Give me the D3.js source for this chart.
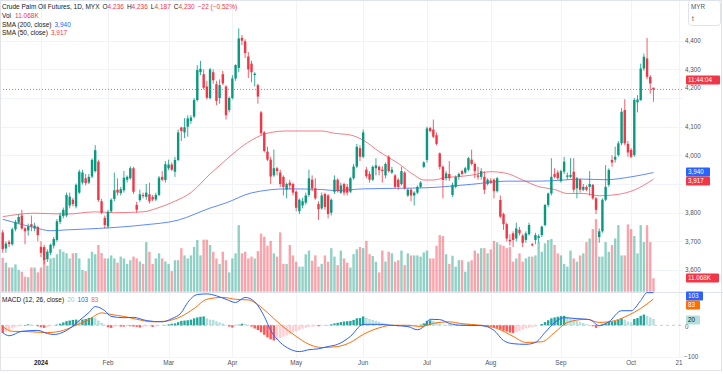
<!DOCTYPE html>
<html>
<head>
<meta charset="utf-8">
<script src="https://cdn.jsdelivr.net/npm/d3@7"></script>
<style>
  body { margin: 0; background: #fff; }
  svg { display: block; font-family: "Liberation Sans", Arial, sans-serif; }
</style>
</head>
<body>
<svg id="chart" width="723" height="374"></svg>
<script>
/* daily bars, Dec 13 2023 .. Oct 10 2024, index 0..204 */
var opens = [3731,3675,3698,3690,3742,3765,3790,3745,3738,3760,3745,3750,3681,3680,3638,3660,3685,3705,3768,3788,
  3790,3825,3845,3822,3870,3905,3920,3905,3926,3945,3978,3840,3782,3752,3805,3848,3880,3868,3878,3915,
  3920,3955,3827,3844,3862,3855,3864,3855,3846,3862,3925,3914,3955,3968,3943,3984,4097,4080,4100,4120,
  4135,4193,4290,4283,4240,4200,4290,4248,4200,4283,4240,4158,4200,4268,4305,4410,4398,4345,4320,4280,
  4245,4150,4080,4013,3985,3930,3955,3940,3925,3880,3905,3900,3873,3805,3825,3835,3862,3915,3885,3830,
  3815,3865,3860,3800,3873,3915,3870,3900,3890,3873,3920,3961,4025,3995,3950,3935,3915,3955,3960,3950,
  3930,3995,3940,3930,3915,3900,3940,3860,3880,3860,3870,3890,3960,3984,4095,4090,4070,4007,3960,3920,
  3935,3862,3890,3925,3945,3940,3950,3985,3970,3930,3925,3925,3900,3912,3915,3875,3844,3795,3760,3705,
  3728,3710,3740,3720,3705,3725,3690,3705,3712,3722,3757,3827,3867,3935,3940,3910,3943,3925,3925,3943,
  3885,3915,3880,3890,3890,3897,3850,3715,3735,3845,3897,3984,3985,4001,4042,4158,4040,4019,4001,4185,
  4193,4303,4338,4274,4236];
var highs = [3740,3700,3705,3748,3775,3795,3810,3750,3762,3790,3765,3755,3700,3688,3672,3692,3715,3778,3800,3818,
  3870,3870,3852,3902,3950,3950,3935,3935,3990,4036,3985,3848,3790,3810,3850,3940,3920,3890,3945,3930,
  3962,3960,3838,3880,3870,3900,3905,3862,3870,3928,3945,3980,3985,3975,3995,4090,4100,4130,4140,4140,
  4200,4315,4330,4300,4260,4305,4300,4260,4265,4295,4245,4205,4280,4318,4443,4420,4405,4360,4330,4290,
  4250,4155,4085,4030,3995,4020,3960,3950,3930,3905,3915,3905,3878,3850,3852,3870,3950,3930,3920,3840,
  3870,3870,3865,3850,3930,3920,3905,3905,3900,3925,3970,4040,4035,4090,3960,3945,3965,3990,3965,3962,
  3975,4000,3960,3935,3920,3960,3945,3885,3885,3875,3895,3910,3980,4100,4100,4125,4080,4010,3965,3945,
  3980,3905,3930,3940,3950,3960,3995,4020,3975,3960,3955,3945,3920,3920,3920,3925,3860,3800,3765,3725,
  3735,3765,3750,3725,3735,3765,3695,3730,3725,3755,3830,3870,3990,3955,3948,3950,3995,3940,3990,3990,
  3925,3920,3900,3895,3945,3900,3855,3745,3850,3966,3955,4000,4030,4050,4165,4196,4050,4025,4200,4210,
  4320,4355,4410,4280,4236];
var lows = [3660,3660,3680,3685,3735,3760,3740,3690,3720,3735,3735,3700,3645,3620,3628,3652,3675,3698,3760,3780,
  3785,3815,3822,3815,3865,3898,3895,3900,3920,3940,3838,3795,3745,3745,3800,3840,3860,3860,3870,3905,
  3915,3865,3800,3838,3850,3845,3832,3840,3840,3858,3910,3905,3948,3945,3925,3980,4050,4060,4065,4110,
  4130,4188,4280,4230,4195,4195,4250,4175,4180,4245,4125,4150,4195,4260,4290,4385,4340,4270,4255,4240,
  4180,4070,4010,3980,3900,3925,3930,3890,3860,3850,3880,3860,3805,3795,3815,3828,3855,3875,3845,3775,
  3810,3810,3780,3790,3865,3870,3865,3860,3860,3868,3915,3955,3980,3990,3920,3905,3910,3930,3930,3905,
  3920,3940,3935,3885,3880,3895,3880,3855,3840,3825,3865,3885,3955,3975,4080,4060,4035,3950,3850,3912,
  3910,3855,3885,3915,3930,3935,3945,3965,3920,3915,3915,3865,3895,3900,3850,3870,3780,3740,3700,3685,
  3680,3700,3720,3680,3695,3720,3682,3690,3695,3715,3752,3820,3860,3920,3915,3905,3935,3915,3920,3870,
  3850,3870,3875,3875,3860,3845,3795,3695,3730,3840,3890,3960,3975,3995,4035,4035,3995,3990,3995,4150,
  4190,4295,4265,4215,4187];
var closes = [3673,3692,3690,3742,3768,3785,3745,3735,3752,3752,3755,3722,3660,3635,3664,3688,3708,3770,3790,3810,
  3862,3856,3830,3897,3943,3940,3903,3925,3984,4018,3844,3800,3757,3803,3845,3878,3870,3882,3922,3925,
  3955,3873,3810,3864,3858,3870,3840,3846,3862,3922,3915,3969,3968,3950,3984,4080,4085,4098,4129,4132,
  4193,4298,4302,4236,4201,4300,4262,4190,4245,4251,4140,4200,4268,4315,4408,4400,4357,4300,4290,4285,
  4205,4077,4015,3985,3926,3955,3945,3900,3890,3900,3895,3870,3817,3845,3840,3860,3920,3885,3850,3812,
  3860,3820,3795,3845,3915,3875,3895,3870,3870,3920,3961,4030,3995,4080,3927,3915,3960,3965,3948,3945,
  3970,3945,3950,3890,3890,3945,3885,3880,3860,3870,3890,3905,3975,4094,4085,4065,4040,3960,3914,3937,
  3920,3897,3925,3935,3935,3955,3990,3970,3945,3925,3945,3880,3915,3905,3875,3920,3786,3760,3710,3700,
  3705,3745,3728,3695,3728,3757,3686,3722,3718,3751,3827,3867,3925,3925,3920,3945,3978,3930,3932,3880,
  3920,3880,3890,3880,3900,3850,3810,3735,3845,3890,3949,3975,3995,4042,4152,4042,4010,3995,4193,4195,
  4303,4344,4274,4251,4230];
// volume in thousands of lots
var volumes = [28,24,20,20,22.6,18,16.5,12.4,12,20,20,16,20,27.5,21.5,27.5,28,31,35,33,
  31.7,27.5,31.7,32,27.5,18,17,27.5,33,31,38.6,32,27.5,27.5,30,27.5,24,29,27.5,23,
  26,29,27.5,25,23,41,33,23,27.5,31.7,27.5,25,23,17,26,26,36,30,27.5,30,
  37,42.7,30,43,43,38.6,33,27.5,23,33,26,16,27.5,31.7,55,31.7,33,27.5,29,27.5,
  33.6,48,45.5,38,42,31.7,29,49,23,23,38.6,30,24.8,20.7,20.7,31,34,25.6,30,20.7,
  23,30,24.8,36,29,22,34,27.5,24,20,31,35,37,36,42,31,29.5,24.8,16,34,
  25,33,31.7,24.8,26,34,22,31.7,30,30,30,29,32.5,34,27.5,27.5,38,46.8,46,31,
  23,29.7,20.7,26,26,16.5,24.8,26,34,31.7,36,36,31.7,35,42,40.8,39,38,36,37,
  24.8,27.5,31.7,24.8,27.5,29,29,30,41,33,40,42.7,43.5,38.6,31.7,30,23,20.7,34,27.5,
  24.8,30,31.7,41,44,51.8,60,29,29,41,33,38.6,44,55,30,30,55.6,51.8,46,31.7,
  55,41,55,41,11.068];

// moving averages read at selected bars
var sma200Idx = [0,10,15,20,30,44,55,65,70,78,89,100,104,113,124,133,147,158,168,182,189,197,204];
var sma200 = [3777,3748,3737,3740,3745,3757,3774,3816,3834,3869,3883,3881,3877,3883,3885,3887,3899,3910,3910,3917,3915,3925,3940];
var sma50Idx = [0,10,20,29,35,44,49,54,59,65,70,73,78,84,89,100,104,109,113,118,124,129,132,135,139,142,147,153,158,163,168,173,177,182,187,193,198,204];
var sma50 = [3786,3798,3795,3803,3800,3803,3818,3840,3870,3935,3984,4013,4053,4080,4085,4085,4077,4071,4053,4013,3972,3931,3914,3914,3923,3925,3931,3943,3937,3914,3891,3881,3867,3867,3859,3864,3879,3917];

// MACD (12, 26, close)
var macdIdx = [0,2,6,11,14,16,21,24,27,29,32,34,38,41,45,50,53,56,58,61,64,67,70,73,76,79,82,84,87,90,93,96,99,102,105,109,113,118,122,127,130,132,134,137,140,144,150,154,157,160,164,167,170,173,176,180,184,187,190,194,197,200,202,204];
var macdLine = [-23,-33,-19,-16,-26,-29,-10,15,40,59,46,28,24,25,15,11,21,40,72,97,99,93,82,72,88,74,28,-16,-54,-75,-83,-77,-74,-67,-60,-35,3,3,0,-4,-14,-4,19,18,6,0,-1,-16,-48,-58,-60,-54,-23,9,24,21,18,-1,11,46,46,78,103,103];
var signalIdx = [0,3,8,14,18,22,27,31,34,38,42,47,51,56,60,64,69,73,77,80,83,87,92,96,100,105,109,113,118,122,127,131,135,140,144,150,155,160,164,169,173,177,183,187,192,196,200,204];
var signalLine = [-4,-19,-20,-23,-19,-4,18,39,34,28,19,11,13,28,53,82,88,82,80,65,40,3,-35,-60,-70,-67,-54,-29,-8,0,0,-4,6,11,5,0,-10,-35,-54,-52,-23,9,19,9,15,31,53,83];
var histogram = [-24,-20,-15,-10,-6,-3,-2,1,3,2, 1,-3,-6,-8,-6,-3,-1,2,5,9,
  13,15,17,18,16,18,20,23,25,24, 15,8,2,-6,-8,-5,-3,-4,-4,-3,
  -3,-4,-5,-7,-5,-4,-3,-5,-4,-2, -1,1,3,5,6,10,14,15,16,18,
  22,25,27,28,22,18,17,13,9,6, 2,-4,-7,-3,2,5,4,1,-4,-10,
  -15,-22,-30,-38,-44,-48,-46,-40,-36,-32, -27,-22,-19,-15,-11,-8,-5,-4,-3,-3,
  -2,-1,1,3,6,8,10,12,13,14, 17,22,23,28,24,20,17,14,11,8,
  6,4,2,-2,-3,-2,-3,-4,-3,-2, -1,2,6,14,16,14,10,5,2,1,
  2,1,1,1,2,2,3,2,0,-2, -2,-3,-3,-4,-6,-8,-13,-17,-20,-23,
  -24,-21,-18,-14,-10,-8,-6,-4,-1,4, 10,16,22,25,27,29,30,27,23,19,
  14,10,7,4,1,-3,-8,-4,3,6, 10,12,13,17,22,18,12,10,20,23,
  30,34,30,25,20];

var timeTickIdx = [12,33,52,72,92,113,133,153,175,197,212];
var timeTickLabels = ["2024","Feb","Mar","Apr","May","Jun","Jul","Aug","Sep","Oct","21"];
var priceTicks = [3600,3700,3800,3900,4000,4100,4200,4300,4400];

var svg = d3.select("#chart");
var UP = "#089981", DOWN = "#f23645";
var plotRight = 683;

var x = d3.scaleLinear().domain([0, 212]).range([2.7, 2.7 + 212 * 3.19]);
var y = d3.scaleLinear().domain([3600, 4400]).range([270, 40.7]);
var yVol = d3.scaleLinear().domain([0, 60]).range([291.7, 219.1]);
var yMacd = d3.scaleLinear().domain([-100, 0]).range([357, 325.3]);

svg.append("rect").attr("width", 723).attr("height", 374).attr("fill", "#fff");

// grid
var grid = svg.append("g").attr("stroke", "#f0f3fa").attr("stroke-width", 1);
grid.selectAll(".hg").data(priceTicks).enter().append("line")
    .attr("x1", 0).attr("x2", plotRight)
    .attr("y1", function(d) { return Math.round(y(d)) + 0.5; })
    .attr("y2", function(d) { return Math.round(y(d)) + 0.5; });
grid.selectAll(".vg").data(timeTickIdx).enter().append("line")
    .attr("x1", function(d) { return Math.round(x(d)) + 0.5; })
    .attr("x2", function(d) { return Math.round(x(d)) + 0.5; })
    .attr("y1", 0).attr("y2", 357);
grid.append("line").attr("x1", 0).attr("x2", plotRight)
    .attr("y1", Math.round(yMacd(-100)) + 0.5).attr("y2", Math.round(yMacd(-100)) + 0.5);

// pane separator
svg.append("line").attr("x1", 0).attr("x2", 723).attr("y1", 292.5).attr("y2", 292.5)
    .attr("stroke", "#e0e3eb");

var bars = d3.range(closes.length);
function isUp(i) { return closes[i] >= opens[i]; }

// volume
svg.append("g").selectAll("rect").data(bars).enter().append("rect")
    .attr("x", function(i) { return x(i) - 1.2; })
    .attr("width", 2.4)
    .attr("y", function(i) { return yVol(volumes[i]); })
    .attr("height", function(i) { return yVol(0) - yVol(volumes[i]); })
    .attr("fill", function(i) { return isUp(i) ? UP : DOWN; })
    .attr("fill-opacity", 0.45);

// moving averages
var maLine = d3.line().curve(d3.curveMonotoneX);
svg.append("path")
    .attr("d", maLine(sma200Idx.map(function(d, k) { return [x(d), y(sma200[k])]; })))
    .attr("fill", "none").attr("stroke", "#2962ff").attr("stroke-opacity", 0.75).attr("stroke-width", 1);
svg.append("path")
    .attr("d", maLine(sma50Idx.map(function(d, k) { return [x(d), y(sma50[k])]; })))
    .attr("fill", "none").attr("stroke", "#f23645").attr("stroke-opacity", 0.65).attr("stroke-width", 1);

// candles
var candles = svg.append("g");
candles.selectAll("line").data(bars).enter().append("line")
    .attr("x1", function(i) { return x(i); }).attr("x2", function(i) { return x(i); })
    .attr("y1", function(i) { return y(highs[i]); }).attr("y2", function(i) { return y(lows[i]); })
    .attr("stroke", function(i) { return isUp(i) ? UP : DOWN; })
    .attr("stroke-width", 0.8);
candles.selectAll("rect").data(bars).enter().append("rect")
    .attr("x", function(i) { return x(i) - 1.2; })
    .attr("width", 2.4)
    .attr("y", function(i) { return y(Math.max(opens[i], closes[i])); })
    .attr("height", function(i) { return Math.max(1, Math.abs(y(opens[i]) - y(closes[i]))); })
    .attr("fill", function(i) { return isUp(i) ? UP : DOWN; });

// last price line
var last = closes.length - 1;
svg.append("line").attr("x1", 0).attr("x2", plotRight)
    .attr("y1", y(closes[last])).attr("y2", y(closes[last]))
    .attr("stroke", DOWN).attr("stroke-width", 0.8).attr("stroke-dasharray", "1,2");

// MACD pane
svg.append("line").attr("x1", 0).attr("x2", plotRight)
    .attr("y1", yMacd(0)).attr("y2", yMacd(0))
    .attr("stroke", "#b2b5be").attr("stroke-width", 0.7).attr("stroke-dasharray", "3,3");
svg.append("g").selectAll("rect").data(bars).enter().append("rect")
    .attr("x", function(i) { return x(i) - 1.2; })
    .attr("width", 2.4)
    .attr("y", function(i) { return Math.min(yMacd(histogram[i]), yMacd(0)); })
    .attr("height", function(i) { return Math.abs(yMacd(histogram[i]) - yMacd(0)); })
    .attr("fill", function(i) {
        var v = histogram[i], p = i > 0 ? histogram[i - 1] : v;
        if (v >= 0) return v >= p ? "#26a69a" : "#b2dfdb";
        return v <= p ? "#ff5252" : "#ffcdd2";
    });
var mLine = d3.line().curve(d3.curveMonotoneX);
svg.append("path")
    .attr("d", mLine(signalIdx.map(function(d, k) { return [x(d), yMacd(signalLine[k])]; })))
    .attr("fill", "none").attr("stroke", "#ff6d00").attr("stroke-width", 1);
svg.append("path")
    .attr("d", mLine(macdIdx.map(function(d, k) { return [x(d), yMacd(macdLine[k])]; })))
    .attr("fill", "none").attr("stroke", "#2962ff").attr("stroke-width", 1);

// price axis labels
svg.append("g").selectAll("text").data(priceTicks.filter(function(d) { return d !== 3900; }))
    .enter().append("text")
    .attr("x", 685).attr("y", function(d) { return d === 4200 ? 88 : y(d); })
    .attr("dy", "0.35em").attr("font-size", "6.3px").attr("fill", "#50535e")
    .text(function(d) { return d3.format(",")(d); });
svg.append("text").attr("x", 685).attr("y", yMacd(0) + 1).attr("dy", "0.35em")
    .attr("font-size", "6.3px").attr("fill", "#50535e").text("0");
svg.append("text").attr("x", 684).attr("y", yMacd(-100)).attr("dy", "0.35em")
    .attr("font-size", "6.3px").attr("fill", "#50535e").text("\u2212100");

// time axis labels
svg.append("g").selectAll("text").data(timeTickIdx).enter().append("text")
    .attr("x", function(d) { return x(d); }).attr("y", 363).attr("dy", "0.35em")
    .attr("text-anchor", "middle").attr("font-size", "6.3px")
    .attr("font-weight", function(d, k) { return k === 0 ? "bold" : "normal"; })
    .attr("fill", function(d, k) { return k === 0 ? "#131722" : "#50535e"; })
    .text(function(d, k) { return timeTickLabels[k]; });

// axis value boxes
function valueBox(yc, label, bg, fg, w) {
    svg.append("rect").attr("x", 686).attr("y", yc - 4.5).attr("width", w).attr("height", 9)
        .attr("rx", 1).attr("fill", bg);
    svg.append("text").attr("x", 688).attr("y", yc).attr("dy", "0.35em")
        .attr("font-size", "6.3px").attr("fill", fg).text(label);
}
valueBox(80, "11:44:04", DOWN, "#fff", 34);
valueBox(172, "3,940", "#2962ff", "#fff", 24);
valueBox(181, "3,917", DOWN, "#fff", 24);
valueBox(278, "11.068K", DOWN, "#fff", 33);
valueBox(296, "103", "#2962ff", "#fff", 17);
valueBox(305, "83", "#ff6d00", "#fff", 14);
valueBox(320, "20", "#b2dfdb", "#131722", 14);

// unit box
svg.append("rect").attr("x", 688.5).attr("y", 0.5).attr("width", 32).attr("height", 25)
    .attr("rx", 3).attr("fill", "#fff").attr("stroke", "#e0e3eb");
svg.append("text").attr("x", 691).attr("y", 9).attr("font-size", "6.3px").attr("fill", "#50535e").text("MYR");
svg.append("text").attr("x", 692).attr("y", 21).attr("font-size", "6.3px").attr("fill", "#50535e").text("t");

// legend
var lg = svg.append("g").attr("font-size", "6.5px");
function legendLine(yy, parts) {
    var t = lg.append("text").attr("x", 2).attr("y", yy);
    parts.forEach(function(p) {
        t.append("tspan").attr("fill", p[1]).attr("dx", p[2] || 0).text(p[0]);
    });
}
legendLine(9, [["Crude Palm Oil Futures, 1D, MYX", "#131722"], ["O", "#131722", 3], ["4,236", DOWN],
    ["H", "#131722", 3], ["4,236", DOWN], ["L", "#131722", 3], ["4,187", DOWN],
    ["C", "#131722", 3], ["4,230", DOWN], ["\u221222 (\u22120.52%)", DOWN, 3]]);
legendLine(17.8, [["Vol", "#131722"], ["11.068K", DOWN, 4]]);
legendLine(26.6, [["SMA (200, close)", "#131722"], ["3,940", "#2962ff", 3]]);
legendLine(35.3, [["SMA (50, close)", "#131722"], ["3,917", DOWN, 3]]);
legendLine(302, [["MACD (12, 26, close)", "#131722"], ["20", "#8fd0c8", 3], ["103", "#2962ff", 3], ["83", "#ff6d00", 3]]);

// outer frame
svg.append("rect").attr("x", 0.5).attr("y", 0.5).attr("width", 721).attr("height", 370)
    .attr("fill", "none").attr("stroke", "#e0e3eb");
</script>
</body>
</html>
